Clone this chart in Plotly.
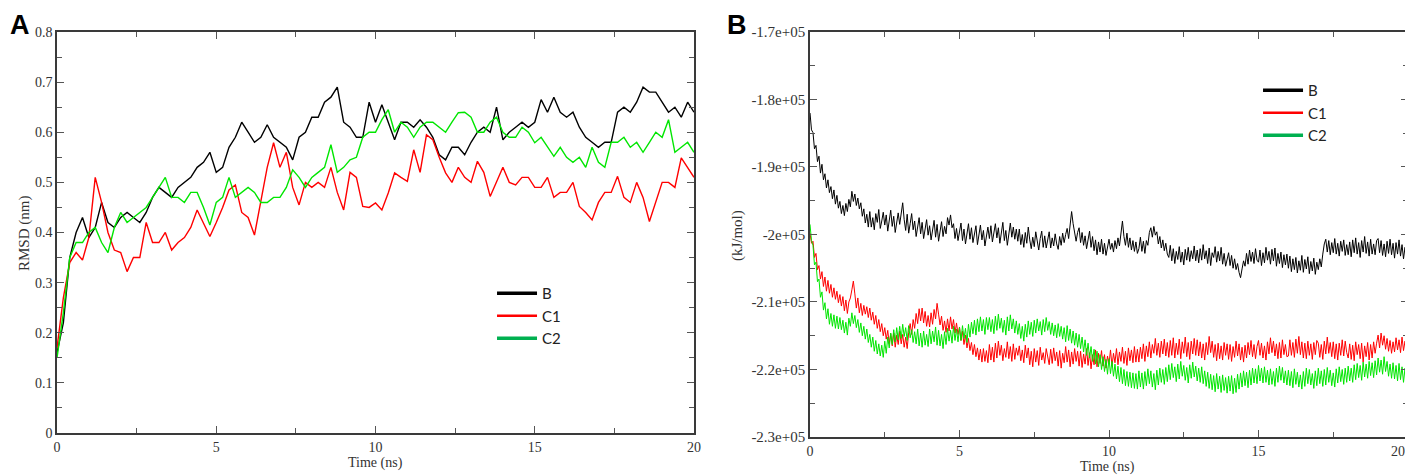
import numpy as np
import plotly.graph_objects as go

# ---- panel A: RMSD (nm), sampled every 0.2 ns ----
time_a = np.round(np.arange(101) * 0.2, 1)

rmsd_b = [0.16, 0.22, 0.35, 0.40, 0.43, 0.39, 0.41, 0.46, 0.42, 0.41,
          0.43, 0.44, 0.43, 0.42, 0.44, 0.47, 0.49, 0.48, 0.47, 0.49,
          0.50, 0.51, 0.53, 0.54, 0.56, 0.52, 0.53, 0.57, 0.59, 0.62,
          0.60, 0.58, 0.59, 0.615, 0.59, 0.58, 0.57, 0.545, 0.59, 0.60,
          0.63, 0.63, 0.66, 0.67, 0.69, 0.62, 0.61, 0.59, 0.59, 0.66,
          0.62, 0.655, 0.62, 0.585, 0.62, 0.62, 0.61, 0.625, 0.61, 0.59,
          0.555, 0.545, 0.57, 0.57, 0.555, 0.58, 0.60, 0.61, 0.60, 0.65,
          0.585, 0.60, 0.61, 0.62, 0.61, 0.62, 0.665, 0.64, 0.67, 0.64,
          0.63, 0.64, 0.61, 0.59, 0.58, 0.57, 0.58, 0.58, 0.64, 0.65,
          0.64, 0.66, 0.69, 0.68, 0.68, 0.66, 0.64, 0.65, 0.63, 0.66, 0.64]

rmsd_c1 = [0.17, 0.27, 0.34, 0.36, 0.345, 0.39, 0.51, 0.46, 0.40, 0.365,
           0.36, 0.322, 0.35, 0.35, 0.42, 0.38, 0.38, 0.40, 0.365, 0.38,
           0.39, 0.41, 0.445, 0.42, 0.392, 0.42, 0.45, 0.485, 0.495, 0.44,
           0.43, 0.395, 0.46, 0.53, 0.579, 0.53, 0.56, 0.49, 0.455, 0.50,
           0.49, 0.50, 0.49, 0.53, 0.48, 0.445, 0.52, 0.51, 0.452, 0.45,
           0.459, 0.445, 0.479, 0.519, 0.51, 0.502, 0.565, 0.52, 0.595, 0.585,
           0.55, 0.519, 0.50, 0.53, 0.51, 0.50, 0.542, 0.52, 0.472, 0.50,
           0.53, 0.50, 0.495, 0.51, 0.51, 0.49, 0.49, 0.51, 0.47, 0.48,
           0.48, 0.50, 0.452, 0.44, 0.425, 0.46, 0.48, 0.48, 0.512, 0.47,
           0.46, 0.50, 0.47, 0.422, 0.46, 0.50, 0.50, 0.49, 0.549, 0.53, 0.51]

rmsd_c2 = [0.15, 0.24, 0.35, 0.38, 0.38, 0.40, 0.41, 0.38, 0.36, 0.41,
           0.44, 0.42, 0.43, 0.44, 0.45, 0.47, 0.49, 0.51, 0.47, 0.47,
           0.46, 0.48, 0.48, 0.45, 0.415, 0.46, 0.47, 0.51, 0.47, 0.48,
           0.49, 0.48, 0.46, 0.46, 0.47, 0.47, 0.49, 0.525, 0.51, 0.49,
           0.51, 0.52, 0.53, 0.575, 0.52, 0.53, 0.545, 0.55, 0.59, 0.60,
           0.60, 0.625, 0.645, 0.60, 0.62, 0.61, 0.59, 0.61, 0.62, 0.62,
           0.61, 0.60, 0.62, 0.639, 0.64, 0.63, 0.60, 0.60, 0.62, 0.63,
           0.60, 0.59, 0.59, 0.61, 0.60, 0.579, 0.59, 0.57, 0.552, 0.57,
           0.55, 0.54, 0.55, 0.53, 0.57, 0.54, 0.53, 0.58, 0.58, 0.59,
           0.57, 0.58, 0.56, 0.58, 0.60, 0.59, 0.625, 0.56, 0.57, 0.58, 0.56]

# ---- panel B: energy (kJ/mol), sampled every 0.05 ns (one row = 1 ns) ----
time_b = np.round(np.arange(401) * 0.05, 2)

energy_b = [
    -182000, -184500, -184900, -187300, -186800, -189200, -188400, -190900, -189600, -191900, -191000, -193100, -191900, -193800, -192900, -194700, -193400, -195500, -194200, -196100,
    -195100, -196900, -195700, -197200, -195400, -196600, -194800, -195900, -193600, -195100, -194000, -195700, -194600, -196200, -195300, -197300, -196200, -198300, -197000, -198900,
    -196600, -198900, -197500, -199300, -196900, -198200, -196300, -199100, -198000, -196700, -198600, -197100, -199500, -197900, -196400, -198800, -197300, -199700, -198100, -196800,
    -198500, -197200, -195300, -197800, -199400, -197000, -199800, -198400, -196900, -199300, -198000, -200300, -198700, -197500, -199900, -198200, -200600, -199000, -197800, -200100,
    -198700, -200800, -199200, -197900, -200400, -198500, -201000, -199500, -198100, -200300, -198800, -199900, -197500, -198600, -197100, -199000, -198400, -200600, -199100, -200900,
    -199800, -198300, -200900, -199200, -201400, -199600, -198400, -200700, -199000, -201200, -200100, -198700, -201500, -199900, -198600, -200800, -199400, -201700, -200300, -198900,
    -200600, -198700, -201100, -199300, -198400, -200500, -199000, -201300, -199700, -198200, -200900, -199400, -201600, -199800, -198300, -200400, -198900, -200700, -199200, -201000,
    -199200, -201500, -200000, -201900, -199700, -201300, -198900, -200800, -202100, -200400, -201800, -199600, -201200, -202300, -200600, -199500, -201900, -200200, -202000, -200700,
    -199600, -202000, -200500, -201700, -199900, -201400, -202200, -200300, -201600, -199800, -201200, -200000, -199100, -200600, -198600, -196600, -198400, -199800, -201000, -199700,
    -199000, -201200, -199700, -201600, -200200, -202100, -200600, -199500, -201900, -200300, -202400, -200800, -203000, -201100, -202600, -200700, -202900, -201300, -203100, -201500,
    -200700, -202200, -201300, -202600, -200900, -202100, -200500, -201700, -199400, -198000, -200300, -201600, -199800, -201900, -200500, -202300, -200900, -202500, -201100, -202800,
    -202100, -200400, -202500, -201000, -202800, -200900, -201600, -199700, -199000, -200400, -198800, -200100, -199600, -201400, -200300, -202000, -200800, -202400, -201300, -202900,
    -203400, -201600, -203900, -202100, -204300, -202500, -203700, -201800, -204100, -202600, -204500, -202200, -203800, -201900, -204000, -202400, -203600, -201700, -203900, -202300,
    -204200, -202100, -203800, -201500, -203600, -202400, -204300, -202000, -204600, -202700, -203400, -201800, -204100, -202500, -203900, -201900, -204400, -202800, -204700, -203500,
    -202700, -204600, -203100, -205000, -203600, -205200, -204300, -205600, -206400, -205100, -203900, -204700, -202800, -204400, -202300, -204000, -202600, -204300, -202100, -203800,
    -204100, -202300, -204600, -202700, -204200, -201900, -203800, -202500, -204400, -202200, -203900, -202000, -204700, -202800, -204300, -202600, -204900, -203000, -204500, -202900,
    -205000, -203200, -205500, -203600, -205200, -203400, -205700, -203900, -205300, -203100, -205600, -203700, -205100, -203300, -205800, -204000, -205400, -203500, -205900, -204100,
    -205200, -203600, -204800, -202900, -201400, -200700, -202600, -200900, -203000, -201200, -202700, -200600, -202900, -201300, -203200, -201000, -202500, -200800, -203100, -201500,
    -203000, -201100, -203300, -200800, -202700, -200500, -202900, -201200, -203400, -200900, -202600, -200300, -202800, -201100, -203200, -200700, -202900, -201400, -203000, -200900,
    -200600, -202700, -200900, -203100, -201400, -203300, -201000, -202800, -200700, -203000, -201300, -203500, -201200, -202900, -200800, -203200, -201500, -203600, -201900, -203400,
    -202700]

energy_c1 = [
    -199800, -201300, -201000, -203400, -202800, -205200, -204600, -206600, -205500, -207700, -206300, -208400, -206800, -208700, -207400, -209300, -207900, -209600, -208400, -210100,
    -208900, -210600, -209200, -211300, -209700, -211700, -210000, -209400, -208200, -206900, -208800, -210900, -209400, -211600, -210200, -212000, -210500, -211800, -210700, -212300,
    -210900, -212700, -211500, -213300, -212000, -213900, -212600, -214400, -213200, -215000, -213800, -215500, -214200, -216200, -214700, -216500, -214600, -216700, -214900, -216300,
    -214300, -216200, -214800, -216700, -215200, -216900, -214500, -213200, -214800, -212600, -213900, -211700, -213200, -211000, -212800, -210900, -213100, -211400, -213600, -212000,
    -213700, -211600, -213300, -211100, -212500, -210200, -211800, -213400, -212100, -214200, -212800, -214500, -212500, -214300, -212200, -214000, -212600, -214600, -213100, -214800,
    -213700, -215700, -214300, -216300, -214900, -216800, -215400, -217200, -216000, -217800, -216300, -218100, -216800, -218600, -217000, -218900, -216900, -218800, -217200, -219000,
    -216300, -218600, -216700, -218900, -216100, -218300, -215800, -217900, -216400, -218700, -216900, -218200, -215900, -218400, -216600, -218800, -216200, -218500, -216800, -217900,
    -216500, -218700, -217100, -219000, -216400, -218300, -216800, -219300, -217300, -219600, -216900, -218900, -217200, -219400, -216700, -218600, -217500, -219100, -216900, -218400,
    -219300, -217000, -219100, -216800, -218700, -217400, -219500, -217200, -219800, -217600, -219000, -216600, -218900, -217100, -219600, -217400, -219200, -216900, -218800, -217300,
    -219500, -217300, -219700, -217700, -219200, -216900, -219400, -217500, -219900, -217800, -219300, -217100, -219600, -217600, -219100, -217200, -219500, -217800, -219800, -218000,
    -219200, -217100, -219500, -217600, -219000, -216900, -219300, -217400, -218800, -216700, -219100, -217300, -219400, -216800, -218700, -217100, -219000, -216600, -218900, -217000,
    -218900, -216700, -218400, -216200, -218800, -216500, -218100, -215900, -218300, -216300, -217600, -215400, -217900, -216100, -218200, -215800, -217700, -215500, -218000, -216000,
    -218200, -215700, -217900, -215300, -218300, -216100, -217800, -215500, -218400, -215900, -217600, -215200, -218100, -216000, -218500, -215800, -217700, -215400, -217900, -215600,
    -218000, -215900, -218300, -216200, -218600, -216000, -217800, -215100, -217500, -215800, -218200, -216300, -218700, -216100, -218400, -216500, -218600, -216000, -217900, -216200,
    -218500, -216300, -218800, -216600, -218200, -215800, -218000, -216200, -218600, -216700, -218900, -216400, -218300, -216000, -217800, -215700, -218100, -216300, -218400, -216600,
    -215700, -217900, -216100, -218300, -216500, -218600, -215900, -217700, -215300, -217500, -215800, -218000, -216200, -218400, -216000, -218300, -215600, -217800, -216300, -218100,
    -218000, -215600, -217900, -216000, -218200, -215500, -217600, -215100, -217800, -215900, -218300, -216100, -218400, -215800, -217900, -216200, -218500, -216000, -217800, -215700,
    -216100, -218200, -216300, -218500, -215800, -217700, -215200, -217600, -216000, -218100, -215900, -218400, -216200, -218600, -216100, -217900, -215600, -218000, -215800, -217500,
    -218300, -216200, -218500, -216400, -218700, -215900, -217800, -216300, -218400, -216100, -218900, -216500, -218100, -216000, -218600, -216300, -218300, -215900, -217600, -216100,
    -214900, -216800, -214600, -216400, -215000, -217000, -215400, -217300, -215700, -217600, -215900, -217400, -215300, -217100, -215600, -217500, -215200, -217200, -215800, -217700,
    -217900]

energy_c2 = [
    -198500, -200900, -201600, -204500, -204100, -207000, -206600, -209300, -208500, -211200, -210100, -212500, -211000, -213300, -211700, -213600, -211900, -213900, -212100, -214000,
    -212300, -214100, -212700, -214600, -213000, -214900, -212400, -213600, -211600, -213200, -212000, -213800, -212600, -214500, -213100, -215000, -213600, -215500, -214000, -216000,
    -214800, -216700, -215200, -217300, -215700, -217700, -216200, -218000, -216400, -218200, -215800, -217600, -215200, -216800, -214600, -216300, -214100, -215900, -213800, -215600,
    -213600, -215400, -213300, -215100, -213800, -215700, -213500, -215300, -214100, -216000, -214400, -216200, -214000, -216500, -214600, -216700, -214300, -216400, -214800, -216600,
    -214000, -216200, -214300, -215900, -213700, -216400, -214200, -216500, -214800, -216900, -214400, -216300, -213900, -215800, -214200, -216100, -213600, -215700, -214000, -215900,
    -213800, -215700, -213500, -215400, -213900, -216000, -213300, -215200, -213000, -214700, -212700, -214900, -212500, -214400, -212200, -214300, -212600, -214800, -212300, -214100,
    -212300, -214400, -212600, -214700, -212100, -214200, -211800, -213900, -212400, -214500, -212700, -214900, -212200, -214300, -211900, -214000, -212500, -214600, -212800, -214800,
    -213200, -215400, -213600, -215800, -213300, -215200, -212800, -214800, -213000, -215100, -212700, -214600, -212500, -214300, -212900, -214900, -212600, -214400, -212300, -214200,
    -212900, -214800, -213100, -215000, -213400, -215300, -213200, -215100, -213600, -215500, -213800, -215900, -213500, -215700, -214000, -216100, -214300, -216400, -214600, -216700,
    -214800, -216900, -215200, -217400, -215600, -217900, -216100, -218300, -216600, -218800, -217000, -219200, -217300, -219600, -217800, -220000, -218100, -220300, -218500, -220700,
    -218400, -220600, -218800, -221000, -219200, -221400, -219500, -221800, -219700, -222100, -220000, -222400, -220300, -222500, -220400, -222700, -220500, -222800, -220600, -222900,
    -220200, -222600, -220500, -222900, -220300, -222400, -219900, -222100, -220200, -222600, -220600, -223000, -220100, -222300, -219800, -221900, -220000, -222200, -219700, -221800,
    -219300, -221500, -219100, -221200, -219600, -221800, -219200, -221400, -218800, -221000, -219400, -221600, -219700, -222000, -219300, -221300, -218900, -221100, -219500, -221700,
    -219800, -221900, -219600, -222100, -220200, -222500, -220400, -222800, -220700, -223000, -220900, -223300, -220600, -222900, -221000, -223400, -220800, -223100, -221200, -223500,
    -221000, -223200, -220900, -223600, -221300, -223400, -220700, -222900, -220500, -222600, -220200, -222400, -220400, -222700, -220100, -222300, -219800, -222000, -219900, -222100,
    -219400, -221700, -219800, -222000, -219600, -221900, -220100, -222300, -219900, -222200, -220300, -222500, -219800, -221900, -219500, -221600, -219700, -222000, -220200, -222300,
    -220100, -222400, -220300, -222700, -219900, -222200, -220400, -222600, -220800, -222900, -220300, -222500, -219800, -222100, -220000, -222300, -220600, -222800, -220200, -222400,
    -219800, -222100, -220200, -222500, -220000, -222300, -219700, -221900, -220100, -222400, -220500, -222600, -219900, -222000, -219600, -221800, -220000, -222200, -219800, -221900,
    -219500, -221700, -219800, -221900, -219300, -221500, -219100, -221200, -219400, -221600, -218900, -221100, -219200, -221300, -218800, -220900, -219000, -221200, -218700, -220800,
    -218300, -220400, -218600, -220700, -218100, -220300, -218800, -221000, -219200, -221300, -219000, -221400, -219400, -221700, -219100, -221500, -219600, -221900, -219800, -222000,
    -220400]

series_names = ["B", "C1", "C2"]
line_colors = ["#000000", "#ff0000", "#00e600"]
legend_colors = ["#000000", "#ff0000", "#00b050"]
legend_widths = [3.5, 2.5, 3.5]

time_ticks = [0, 5, 10, 15]
energy_tickvals = [-170000, -180000, -190000, -200000, -210000, -220000, -230000]
energy_ticktext = ["-1.7e+05", "-1.8e+05", "-1.9e+05", "-2e+05", "-2.1e+05", "-2.2e+05", "-2.3e+05"]

fig = go.Figure()

for name, vals, col in zip(series_names, [rmsd_b, rmsd_c1, rmsd_c2], line_colors):
    fig.add_trace(go.Scatter(x=time_a, y=vals, mode="lines", name=name, showlegend=False,
                             line=dict(color=col, width=1.4), xaxis="x", yaxis="y"))
for name, vals, col in zip(series_names, [energy_b, energy_c1, energy_c2], line_colors):
    fig.add_trace(go.Scatter(x=time_b, y=vals, mode="lines", name=name, showlegend=False,
                             line=dict(color=col, width=1.0), xaxis="x2", yaxis="y2"))

# legend entries (the legend swatches are a darker green than the plotted line)
for lg, ax_x, ax_y in [("legend", "x", "y"), ("legend2", "x2", "y2")]:
    for name, col, w in zip(series_names, legend_colors, legend_widths):
        fig.add_trace(go.Scatter(x=[None], y=[None], mode="lines", name=name, legend=lg,
                                 line=dict(color=col, width=w), xaxis=ax_x, yaxis=ax_y))

tick_font = dict(family="Liberation Serif", size=14, color="#333333")
title_font = dict(family="Liberation Serif", size=14, color="#333333")
minor_ticks = dict(ticks="inside", ticklen=5, tickcolor="#555555")
axis_common = dict(showline=True, linecolor="#3a3a3a", linewidth=1.5, mirror="ticks",
                   ticks="inside", ticklen=7, tickwidth=1.2, tickcolor="#555555",
                   showgrid=False, zeroline=False, tickfont=tick_font)
legend_font = dict(family="Lato", size=15, color="#222222")

# the page body adds an 8px margin, so the figure is sized to fit the window
fig.update_layout(
    width=1405, height=468,
    margin=dict(l=0, r=0, t=0, b=0, autoexpand=False),
    plot_bgcolor="white", paper_bgcolor="white",
    xaxis=dict(axis_common, domain=[0.03488, 0.48826], range=[0, 20], dtick=5,
               minor=dict(minor_ticks, dtick=2.5)),
    yaxis=dict(axis_common, domain=[0.09188, 0.94872], range=[0, 0.8], dtick=0.1,
               minor=dict(minor_ticks, dtick=0.05)),
    xaxis2=dict(axis_common, domain=[0.57082, 0.99644], range=[0, 20], anchor="y2",
                tickmode="array", tickvals=time_ticks,
                minor=dict(minor_ticks, tick0=0, dtick=2.5)),
    yaxis2=dict(axis_common, domain=[0.08333, 0.94872], range=[-230000, -170000], anchor="x2",
                tickmode="array", tickvals=energy_tickvals, ticktext=energy_ticktext,
                tickfont=dict(tick_font, size=15),
                minor=dict(minor_ticks, tick0=-230000, dtick=5000)),
    legend=dict(x=0.3445, y=0.4252, xanchor="left", yanchor="top", bgcolor="rgba(0,0,0,0)",
                font=legend_font, tracegroupgap=0, itemwidth=40),
    legend2=dict(x=0.8897, y=0.859, xanchor="left", yanchor="top", bgcolor="rgba(0,0,0,0)",
                 font=legend_font, tracegroupgap=0, itemwidth=40),
    annotations=[
        dict(text="<b>A</b>", x=0.0, y=1.0, xref="paper", yref="paper", xanchor="left", yanchor="top",
             showarrow=False, font=dict(family="Liberation Sans", size=27, color="black")),
        dict(text="<b>B</b>", x=0.5103, y=1.0, xref="paper", yref="paper", xanchor="left", yanchor="top",
             showarrow=False, font=dict(family="Liberation Sans", size=27, color="black")),
        dict(text="Time (ns)", x=0.2619, y=0.0278, xref="paper", yref="paper", xanchor="center",
             yanchor="middle", showarrow=False, font=title_font),
        dict(text="Time (ns)", x=0.7829, y=0.0192, xref="paper", yref="paper", xanchor="center",
             yanchor="middle", showarrow=False, font=title_font),
        dict(text="RMSD (nm)", x=0.0121, y=0.5171, xref="paper", yref="paper", xanchor="center",
             yanchor="middle", textangle=-90, showarrow=False, font=dict(title_font, size=15)),
        dict(text="(kJ/mol)", x=0.5189, y=0.5128, xref="paper", yref="paper", xanchor="center",
             yanchor="middle", textangle=-90, showarrow=False, font=dict(title_font, size=15)),
        # last time label of panel B sits against the right edge of the window
        dict(text="20", x=0.996, y=0.0534, xref="paper", yref="paper", xanchor="right",
             yanchor="middle", showarrow=False, font=tick_font),
    ],
)

fig.write_html("out.html")
